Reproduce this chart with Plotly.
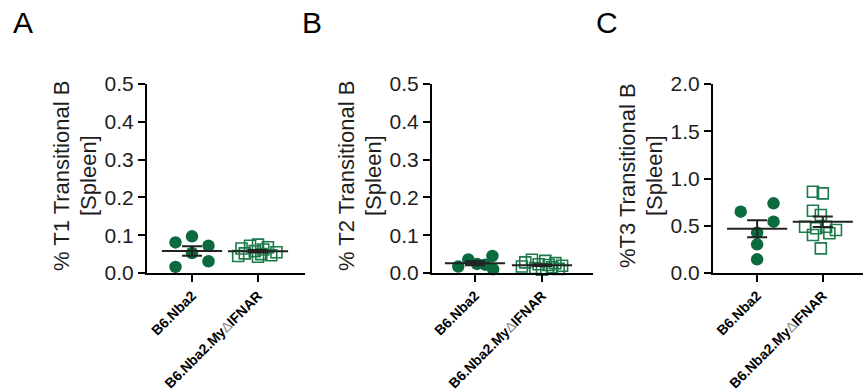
import numpy as np
import plotly.graph_objects as go

# ---------------- data ----------------
categories = ["B6.Nba2", "B6.Nba2.My<span style='color:#8c8c8c;font-weight:normal'>∆</span>IFNAR"]

A_wt = [0.081, 0.097, 0.072, 0.053, 0.016, 0.031]
A_wt_dx = [-0.25, 0.0, 0.25, 0.0, -0.25, 0.25]
A_ko = [0.075, 0.072, 0.068, 0.065, 0.062, 0.058, 0.055, 0.052, 0.050, 0.047, 0.045, 0.043]
A_ko_dx = [0.0, -0.12, 0.15, -0.25, 0.08, -0.05, 0.28, -0.2, 0.05, 0.2, -0.3, 0.0]

B_wt = [0.017, 0.036, 0.024, 0.022, 0.045, 0.010]
B_wt_dx = [-0.25, -0.1, 0.03, 0.15, 0.26, 0.27]
B_ko = [0.035, 0.032, 0.028, 0.026, 0.023, 0.021, 0.019, 0.017, 0.015, 0.013, 0.011, 0.009]
B_ko_dx = [-0.15, 0.05, -0.25, 0.2, -0.05, 0.1, 0.3, -0.3, 0.15, -0.1, 0.25, 0.0]

C_wt = [0.649, 0.737, 0.543, 0.427, 0.303, 0.145]
C_wt_dx = [-0.25, 0.25, 0.25, 0.0, 0.0, 0.0]
C_ko = [0.86, 0.843, 0.659, 0.614, 0.49, 0.473, 0.49, 0.455, 0.402, 0.42, 0.261]
C_ko_dx = [-0.15, 0.0, -0.15, -0.03, -0.27, -0.1, 0.05, 0.2, -0.15, 0.1, -0.03]

y_titles = [("% T1 Transitional B", "[Spleen]"),
            ("% T2 Transitional B", "[Spleen]"),
            ("%T3 Transitional B", "[Spleen]")]
y_ranges = [[0, 0.5], [0, 0.5], [0, 2.0]]
y_dticks = [0.1, 0.1, 0.5]
letters = ["A", "B", "C"]

# ---------------- style / layout ----------------
W, H = 863, 392
FONT = "Liberation Sans, Arial, sans-serif"
GREEN_FILL = "#0b6b3e"
GREEN_OPEN = "#1c7a4b"

panels_px = [(147, 305), (432, 593), (713, 866)]
cat_px = [(192, 258), (475, 542), (758, 825)]
y_top, y_bot = 84, 273

fig = go.Figure()

panel_data = [(A_wt, A_wt_dx, A_ko, A_ko_dx),
              (B_wt, B_wt_dx, B_ko, B_ko_dx),
              (C_wt, C_wt_dx, C_ko, C_ko_dx)]

annotations = []
for i, (wt, wtdx, ko, kodx) in enumerate(panel_data):
    sfx = "" if i == 0 else str(i + 1)
    xa, ya = "x" + sfx, "y" + sfx
    fig.add_trace(go.Scatter(
        x=[0 + d for d in wtdx], y=wt, mode="markers", xaxis=xa, yaxis=ya,
        marker=dict(symbol="circle", size=12.5, color=GREEN_FILL, line=dict(width=0)),
        cliponaxis=False, showlegend=False))
    fig.add_trace(go.Scatter(
        x=[1 + d for d in kodx], y=ko, mode="markers", xaxis=xa, yaxis=ya,
        marker=dict(symbol="square-open", size=11, color=GREEN_OPEN, line=dict(width=1.6)),
        cliponaxis=False, showlegend=False))
    means, sems = [], []
    for arr in (wt, ko):
        a = np.array(arr)
        means.append(a.mean())
        sems.append(a.std(ddof=1) / np.sqrt(len(a)))
    fig.add_trace(go.Scatter(
        x=[0, 1], y=means, mode="markers", xaxis=xa, yaxis=ya,
        marker=dict(symbol="line-ew", size=43, color="#222",
                    line=dict(width=2, color="#222")),
        error_y=dict(type="data", array=sems, visible=True, color="#222",
                     thickness=2, width=10),
        cliponaxis=False, showlegend=False))

    x0, x1 = panels_px[i]
    c0, c1 = cat_px[i]
    ppu = c1 - c0
    xr = [(x0 - c0) / ppu, (x1 - c0) / ppu]
    fig.layout["xaxis" + sfx] = dict(
        domain=[x0 / W, min(x1 / W, 1)], range=xr, anchor=ya, automargin=False,
        tickmode="array", tickvals=[0, 1], ticktext=categories,
        tickangle=-45, ticks="outside", ticklen=7, tickwidth=2, tickcolor="black",
        showline=True, linewidth=2, linecolor="black", showgrid=False, zeroline=False,
        tickfont=dict(family=FONT, size=14, color="black", weight="bold"))
    fig.layout["yaxis" + sfx] = dict(
        domain=[1 - y_bot / H, 1 - y_top / H], range=y_ranges[i], anchor=xa,
        automargin=False,
        dtick=y_dticks[i], tickformat=".1f",
        ticks="outside", ticklen=7, tickwidth=2, tickcolor="black",
        showline=True, linewidth=2, linecolor="black", showgrid=False, zeroline=False,
        tickfont=dict(family=FONT, size=21, color="#1e1e1e"))

    yc = 1 - 176 / H
    for txt, off in zip(y_titles[i], (86, 59)):
        annotations.append(dict(
            text=txt, x=(x0 - off) / W, y=yc, xref="paper", yref="paper",
            xanchor="center", yanchor="middle", textangle=-90, showarrow=False,
            font=dict(family=FONT, size=22, color="#1e1e1e")))
    lx = [11, 300, 594][i]
    annotations.append(dict(
        text=letters[i], x=lx / W, y=1 - 22 / H, xref="paper", yref="paper",
        xanchor="left", yanchor="middle", showarrow=False,
        font=dict(family=FONT, size=30, color="black")))

fig.update_layout(
    template="none",
    width=W, height=H, margin=dict(l=0, r=0, t=0, b=0, autoexpand=False),
    paper_bgcolor="white", plot_bgcolor="white",
    annotations=annotations, showlegend=False)

fig.write_html("out.html")
